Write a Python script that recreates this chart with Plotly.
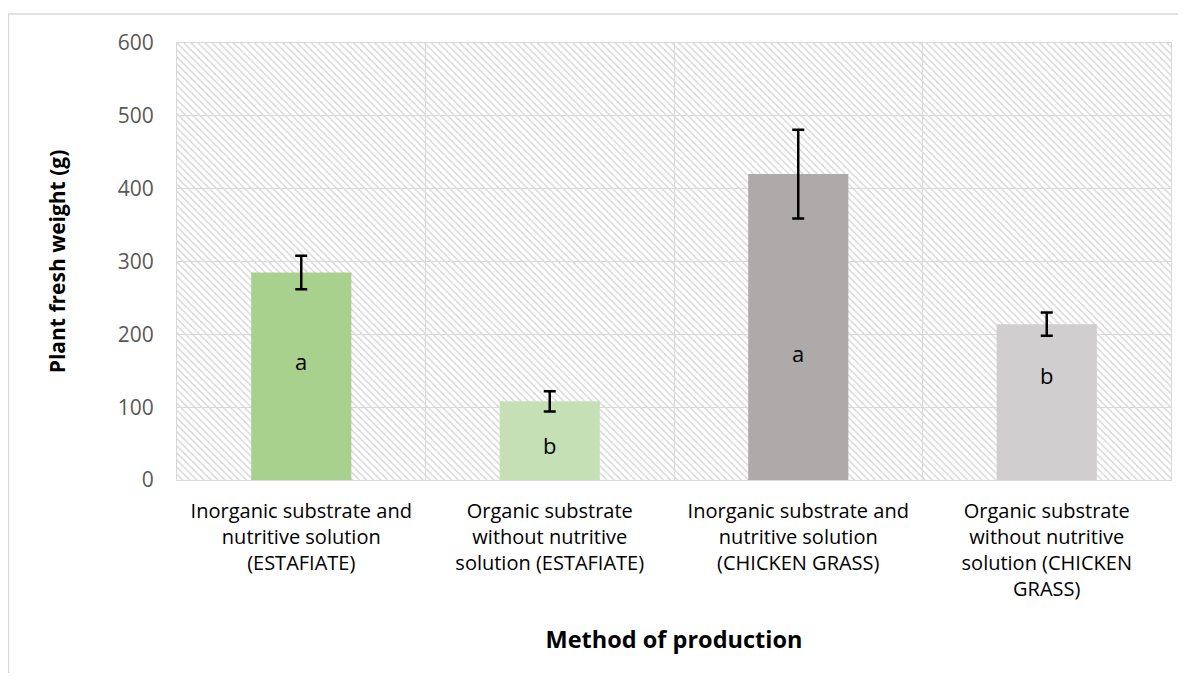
import plotly.graph_objects as go

categories = [
    "Inorganic substrate and<br>nutritive solution<br>(ESTAFIATE)",
    "Organic substrate<br>without nutritive<br>solution (ESTAFIATE)",
    "Inorganic substrate and<br>nutritive solution<br>(CHICKEN GRASS)",
    "Organic substrate<br>without nutritive<br>solution (CHICKEN<br>GRASS)",
]
values = [285, 108, 420, 214]
errors = [23, 14, 61, 16]
letters = ["a", "b", "a", "b"]
letter_y = [163, 48, 175, 144]
colors = ["#A9D18E", "#C5E0B4", "#AEAAAA", "#D0CECE"]
y_ticks = [0, 100, 200, 300, 400, 500, 600]

# page body has an 8px margin; size the figure to fit the 1186x681 window
W, H = 1170, 665
ml, mr, mt, mb = 169, 7, 35, 193
pw, ph = W - ml - mr, H - mt - mb
FONT = "Open Sans"

fig = go.Figure()

# hatched plot-area background
fig.add_trace(go.Bar(
    x=[categories[0]], y=[y_ticks[-1]], width=[4], offset=-0.5,
    marker=dict(color="#D9D9D9", line=dict(width=0),
                pattern=dict(shape="\\", size=5, solidity=0.3, fillmode="replace")),
    hoverinfo="skip", showlegend=False,
))

fig.add_trace(go.Bar(
    x=categories, y=values, width=0.403,
    marker=dict(color=colors, line=dict(width=0)),
    error_y=dict(type="data", array=errors, visible=True, color="black", thickness=2.5, width=6),
    showlegend=False,
))

for c, l, ly in zip(categories, letters, letter_y):
    fig.add_annotation(x=c, y=ly, text=l, showarrow=False,
                       font=dict(size=22, color="black", family=FONT))

# outer chart border (cropped on right and bottom)
fig.add_shape(type="rect", xref="paper", yref="paper",
              x0=(0.5 - ml) / pw, x1=(W + 20 - ml) / pw,
              y0=-(mb + 20) / ph, y1=(H - mb - 6) / ph,
              line=dict(color="#D9D9D9", width=1.5), fillcolor="rgba(0,0,0,0)", layer="below")

fig.update_layout(
    width=W, height=H,
    margin=dict(l=ml, r=mr, t=mt, b=mb),
    paper_bgcolor="white", plot_bgcolor="white",
    barmode="overlay",
    font=dict(family=FONT, color="black"),
    xaxis=dict(
        type="category", range=[-0.5, 3.5], tickson="boundaries",
        showgrid=True, gridcolor="#D9D9D9", gridwidth=1,
        showline=True, linecolor="#D9D9D9", mirror=True, ticks="",
        tickfont=dict(size=20, color="black", family=FONT), ticklabelstandoff=13,
        title=dict(text="<b>Method of production</b>", font=dict(size=23.5, family=FONT), standoff=30),
    ),
    yaxis=dict(
        range=[0, 600], tickvals=y_ticks, showgrid=True, gridcolor="#D9D9D9", gridwidth=1,
        showline=True, linecolor="#D9D9D9", mirror=True, ticks="", zeroline=False,
        tickfont=dict(size=21, color="#595959", family=FONT), ticklabelstandoff=18,
        title=dict(text="<b>Plant fresh weight (g)</b>", font=dict(size=21, family=FONT), standoff=46),
    ),
)

fig.write_html("out.html")
